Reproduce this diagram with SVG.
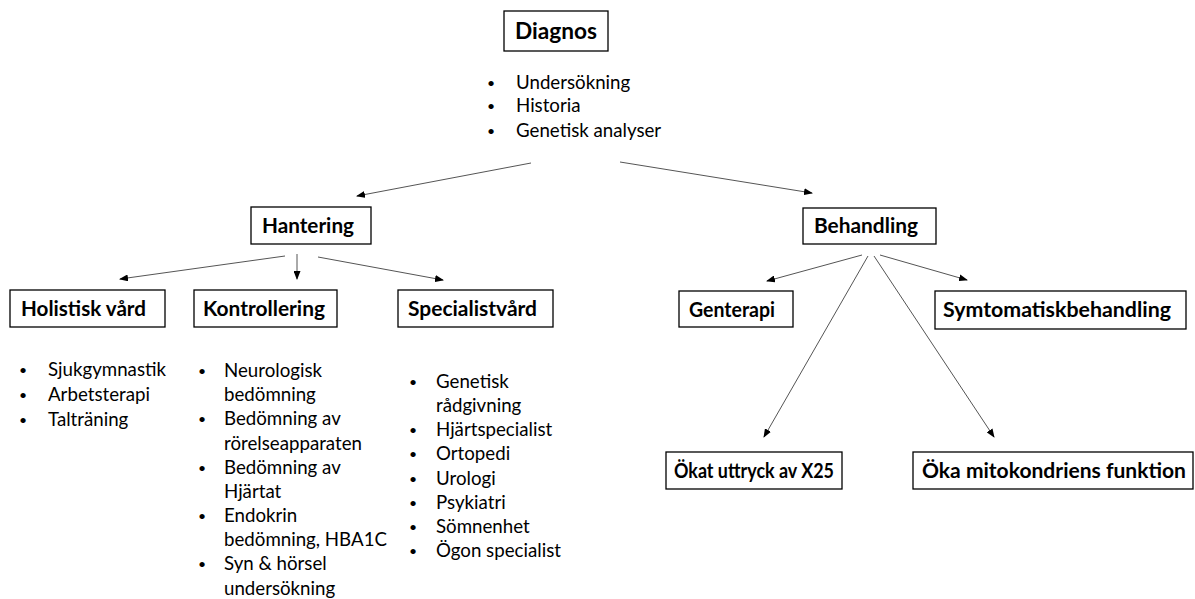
<svg xmlns="http://www.w3.org/2000/svg" width="1195" height="599" viewBox="0 0 1195 599">
<style>
.box{fill:#fff;stroke:#000;stroke-width:1.3}
.lbl{font-family:Lato,"Open Sans",sans-serif;font-weight:bold;font-size:21px;fill:#000}
.li{font-family:Lato,"Open Sans",sans-serif;font-size:18.7px;fill:#000}
.b{font-family:Lato,"Open Sans",sans-serif;font-size:14px;fill:#000}
.con line{stroke:#555;stroke-width:1;marker-end:url(#ah)}
</style>
<defs>
<marker id="ah" markerWidth="9" markerHeight="7" refX="8" refY="3.5" orient="auto" markerUnits="userSpaceOnUse">
<path d="M0,0 L9,3.5 L0,7 Z" fill="#000"/>
</marker>
</defs>
<rect width="1195" height="599" fill="#fff"/>
<g id="diagnos">
<rect class="box" x="504" y="11" width="104" height="40"/>
<text class="lbl" x="515" y="39" style="font-size:23px" textLength="82" lengthAdjust="spacingAndGlyphs">Diagnos</text>
<text class="b" x="487" y="88">•</text><text class="li" x="516" y="89">Undersökning</text>
<text class="b" x="487" y="111">•</text><text class="li" x="516" y="112">Historia</text>
<text class="b" x="487" y="136">•</text><text class="li" x="516" y="137">Genetisk analyser</text>
</g>
<g id="hantering">
<rect class="box" x="251" y="207" width="120" height="37"/>
<text class="lbl" x="262" y="233" textLength="92" lengthAdjust="spacingAndGlyphs">Hantering</text>
</g>
<g id="behandling">
<rect class="box" x="803" y="208" width="133" height="36"/>
<text class="lbl" x="814" y="233" textLength="104" lengthAdjust="spacingAndGlyphs">Behandling</text>
</g>
<g id="holistisk">
<rect class="box" x="10" y="290" width="155" height="37"/>
<text class="lbl" x="21" y="316" textLength="125" lengthAdjust="spacingAndGlyphs">Holistisk vård</text>
<text class="b" x="19" y="375">•</text><text class="li" x="48" y="376">Sjukgymnastik</text>
<text class="b" x="19" y="400">•</text><text class="li" x="48" y="401">Arbetsterapi</text>
<text class="b" x="19" y="425">•</text><text class="li" x="48" y="426">Talträning</text>
</g>
<g id="kontrollering">
<rect class="box" x="194" y="290" width="143" height="37"/>
<text class="lbl" x="203" y="316" textLength="122" lengthAdjust="spacingAndGlyphs">Kontrollering</text>
<text class="b" x="198" y="376">•</text><text class="li" x="224" y="377">Neurologisk</text>
<text class="li" x="224" y="401">bedömning</text>
<text class="b" x="198" y="424">•</text><text class="li" x="224" y="425">Bedömning av</text>
<text class="li" x="224" y="450">rörelseapparaten</text>
<text class="b" x="198" y="473">•</text><text class="li" x="224" y="474">Bedömning av</text>
<text class="li" x="224" y="498">Hjärtat</text>
<text class="b" x="198" y="521">•</text><text class="li" x="224" y="522">Endokrin</text>
<text class="li" x="224" y="546">bedömning, HBA1C</text>
<text class="b" x="198" y="569">•</text><text class="li" x="224" y="570">Syn &amp; hörsel</text>
<text class="li" x="224" y="595">undersökning</text>
</g>
<g id="specialistvard">
<rect class="box" x="398" y="290" width="155" height="37"/>
<text class="lbl" x="408" y="316" textLength="129" lengthAdjust="spacingAndGlyphs">Specialistvård</text>
<text class="b" x="409" y="387">•</text><text class="li" x="436" y="388">Genetisk</text>
<text class="li" x="436" y="412">rådgivning</text>
<text class="b" x="409" y="435">•</text><text class="li" x="436" y="436">Hjärtspecialist</text>
<text class="b" x="409" y="459">•</text><text class="li" x="436" y="460">Ortopedi</text>
<text class="b" x="409" y="484">•</text><text class="li" x="436" y="485">Urologi</text>
<text class="b" x="409" y="508">•</text><text class="li" x="436" y="509">Psykiatri</text>
<text class="b" x="409" y="532">•</text><text class="li" x="436" y="533">Sömnenhet</text>
<text class="b" x="409" y="556">•</text><text class="li" x="436" y="557">Ögon specialist</text>
</g>
<g id="genterapi">
<rect class="box" x="679" y="291" width="114" height="36"/>
<text class="lbl" x="689" y="317" textLength="86" lengthAdjust="spacingAndGlyphs">Genterapi</text>
</g>
<g id="symtomatisk">
<rect class="box" x="935" y="291" width="251" height="38"/>
<text class="lbl" x="943" y="317" textLength="228" lengthAdjust="spacingAndGlyphs">Symtomatiskbehandling</text>
</g>
<g id="okat">
<rect class="box" x="666" y="452" width="176" height="37"/>
<text class="lbl" x="674" y="478" textLength="160" lengthAdjust="spacingAndGlyphs">Ökat uttryck av X25</text>
</g>
<g id="oka">
<rect class="box" x="913" y="452" width="280" height="37"/>
<text class="lbl" x="922" y="478" textLength="264" lengthAdjust="spacingAndGlyphs">Öka mitokondriens funktion</text>
</g>
<g id="connectors" class="con">
<line x1="531" y1="163" x2="357" y2="196"/>
<line x1="620" y1="162" x2="812" y2="193"/>
<line x1="285" y1="256" x2="120" y2="279"/>
<line x1="297" y1="254" x2="297" y2="279"/>
<line x1="318" y1="257" x2="443" y2="280"/>
<line x1="862" y1="255" x2="767" y2="281"/>
<line x1="880" y1="255" x2="967" y2="280"/>
<line x1="868" y1="256" x2="764" y2="437"/>
<line x1="874" y1="256" x2="994" y2="437"/>
</g>
</svg>
